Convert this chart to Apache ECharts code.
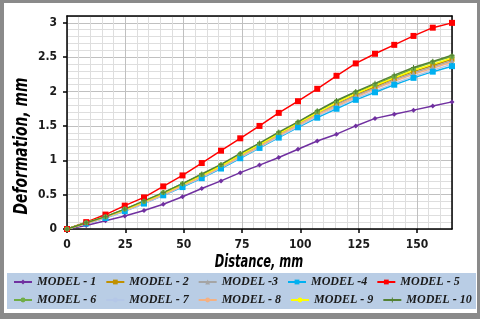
<!DOCTYPE html>
<html>
<head>
<meta charset="utf-8">
<script src="https://cdn.jsdelivr.net/npm/echarts@6/dist/echarts.min.js"></script>
<style>
html,body{margin:0;padding:0;background:#fff;}
#wrap{position:relative;width:480px;height:319px;}
#chart{position:absolute;left:0;top:0;width:480px;height:319px;}
#frame{position:absolute;left:0;top:0;width:480px;height:319px;box-sizing:border-box;
  border-style:solid;border-color:#8a8a8a;border-width:3px 3px 6px 4px;pointer-events:none;}
</style>
</head>
<body>
<div id="wrap"><div id="chart"></div><div id="frame"></div></div>
<script>
var distances = [0, 8.25, 16.5, 24.75, 33, 41.25, 49.5, 57.75, 66, 74.25, 82.5, 90.75, 99, 107.25, 115.5, 123.75, 132, 140.25, 148.5, 156.75, 165];
var model1  = [0, 0.05, 0.12, 0.19, 0.27, 0.36, 0.47, 0.59, 0.70, 0.82, 0.93, 1.04, 1.16, 1.28, 1.38, 1.50, 1.61, 1.67, 1.73, 1.79, 1.85];
var model2  = [0, 0.09, 0.17, 0.28, 0.39, 0.51, 0.64, 0.78, 0.92, 1.07, 1.22, 1.38, 1.53, 1.68, 1.82, 1.95, 2.07, 2.19, 2.29, 2.38, 2.47];
var model3  = [0, 0.08, 0.17, 0.27, 0.39, 0.51, 0.63, 0.77, 0.91, 1.06, 1.21, 1.37, 1.52, 1.67, 1.81, 1.94, 2.05, 2.17, 2.27, 2.36, 2.45];
var model4  = [0, 0.08, 0.16, 0.26, 0.37, 0.49, 0.61, 0.74, 0.88, 1.03, 1.18, 1.33, 1.48, 1.62, 1.75, 1.88, 1.99, 2.10, 2.20, 2.29, 2.37];
var model5  = [0, 0.10, 0.21, 0.34, 0.46, 0.62, 0.78, 0.96, 1.14, 1.32, 1.50, 1.69, 1.86, 2.04, 2.23, 2.41, 2.55, 2.68, 2.81, 2.93, 3.00];
var model6  = [0, 0.09, 0.18, 0.29, 0.40, 0.53, 0.66, 0.79, 0.93, 1.09, 1.24, 1.40, 1.55, 1.71, 1.86, 1.99, 2.10, 2.22, 2.33, 2.43, 2.51];
var model7  = [0, 0.08, 0.16, 0.26, 0.37, 0.49, 0.62, 0.75, 0.89, 1.04, 1.19, 1.34, 1.49, 1.64, 1.77, 1.90, 2.01, 2.12, 2.22, 2.31, 2.40];
var model8  = [0, 0.08, 0.17, 0.27, 0.38, 0.50, 0.63, 0.76, 0.90, 1.05, 1.20, 1.36, 1.51, 1.66, 1.79, 1.92, 2.04, 2.15, 2.25, 2.34, 2.43];
var model9  = [0, 0.09, 0.18, 0.28, 0.40, 0.52, 0.65, 0.78, 0.92, 1.08, 1.23, 1.39, 1.54, 1.69, 1.84, 1.97, 2.09, 2.20, 2.31, 2.40, 2.49];
var model10 = [0, 0.09, 0.18, 0.29, 0.41, 0.53, 0.66, 0.80, 0.94, 1.10, 1.25, 1.41, 1.56, 1.72, 1.87, 2.00, 2.12, 2.24, 2.35, 2.44, 2.53];
var seriesNames = ['MODEL - 1','MODEL - 2','MODEL -3','MODEL -4','MODEL - 5','MODEL - 6','MODEL - 7','MODEL - 8','MODEL - 9','MODEL - 10'];
var xTitle = 'Distance, mm';
var yTitle = 'Deformation, mm';

var allValues = [model1, model2, model3, model4, model5, model6, model7, model8, model9, model10];
var colors = ['#7030a0', '#c09000', '#a5a5a5', '#00b0f0', '#ff0000', '#70ad47', '#b4c7e7', '#f4b183', '#ffff00', '#548235'];
var symbols = ['diamond', 'rect', 'triangle', 'rect', 'rect', 'circle', 'none', 'none', 'none',
  'path://M2,0H3V2H5V3H3V5H2V3H0V2H2Z'];
var sizes = [5, 5, 5, 6, 6, 5, 0, 0, 0, 5];

function pairs(vals){ return vals.map(function(v,i){ return [distances[i], v]; }); }

var series = allValues.map(function(vals, i){
  return {
    name: seriesNames[i], type: 'line', data: pairs(vals),
    symbol: symbols[i], symbolSize: sizes[i], showSymbol: symbols[i] !== 'none',
    lineStyle: {color: colors[i], width: 1.5},
    itemStyle: {color: colors[i]},
    animation: false
  };
});

var condFont = 'DejaVu Sans Condensed, DejaVu Sans, sans-serif';
var tickFont = {fontFamily: condFont, fontWeight: 'bold', fontSize: 12, color: '#1a1a1a'};
var legendText = {fontFamily: 'Liberation Serif, serif', fontStyle: 'italic', fontWeight: 'bold', fontSize: 12, color: '#1a1a1a', width: 62};

var frameAxis = {
  axisLine: {show: true, onZero: false, lineStyle: {color: '#000', width: 1.5}},
  axisTick: {show: false}, axisLabel: {show: false}, splitLine: {show: false}
};

var chart = echarts.init(document.getElementById('chart'), null, {renderer: 'canvas'});
chart.setOption({
  animation: false,
  backgroundColor: '#fff',
  grid: {left: 67, right: 28, top: 16, bottom: 90},
  graphic: [
    {type: 'rect', left: 7, top: 273, z: -10, shape: {width: 469, height: 36}, style: {fill: '#b9cde5'}},
    {type: 'text', x: 259, y: 263, scaleX: 0.75, z: 10,
      style: {text: xTitle, fontFamily: condFont, fontWeight: 'bold', fontStyle: 'italic', fontSize: 17, fill: '#000', textAlign: 'center', textVerticalAlign: 'middle'}},
    {type: 'text', x: 22, y: 146, rotation: Math.PI / 2, scaleX: 0.77, z: 10,
      style: {text: yTitle, fontFamily: condFont, fontWeight: 'bold', fontStyle: 'italic', fontSize: 20, fill: '#000', textAlign: 'center', textVerticalAlign: 'middle'}}
  ],
  legend: [
    {data: seriesNames.slice(0,5), left: 13, top: 276, itemWidth: 18, itemHeight: 6, itemGap: 9, textStyle: legendText, padding: 0},
    {data: seriesNames.slice(5), left: 13, top: 294, itemWidth: 18, itemHeight: 6, itemGap: 9, textStyle: legendText, padding: 0}
  ],
  xAxis: [{
    type: 'value', min: 0, max: 165, interval: 25,
    axisLine: {lineStyle: {color: '#000', width: 1.5}},
    axisTick: {show: true, inside: false, length: 4, lineStyle: {color: '#000', width: 1.5}},
    axisLabel: Object.assign({margin: 10, showMaxLabel: false}, tickFont),
    splitLine: {show: true, lineStyle: {color: '#c0c0c0', width: 1}},
    minorTick: {show: false, splitNumber: 5},
    minorSplitLine: {show: true, lineStyle: {color: '#dedede', width: 1}}
  }, Object.assign({type: 'value', min: 0, max: 165, position: 'top'}, frameAxis)],
  yAxis: [{
    type: 'value', min: 0, max: 3.1, interval: 0.5,
    axisLine: {show: true, lineStyle: {color: '#000', width: 1.5}},
    axisTick: {show: true, inside: false, length: 4, lineStyle: {color: '#000', width: 1.5}},
    axisLabel: Object.assign({margin: 10, showMaxLabel: false}, tickFont),
    splitLine: {show: true, lineStyle: {color: '#c0c0c0', width: 1}},
    minorTick: {show: false, splitNumber: 5},
    minorSplitLine: {show: true, lineStyle: {color: '#dedede', width: 1}}
  }, Object.assign({type: 'value', min: 0, max: 3.1, position: 'right'}, frameAxis)],
  series: series
});
</script>
</body>
</html>
